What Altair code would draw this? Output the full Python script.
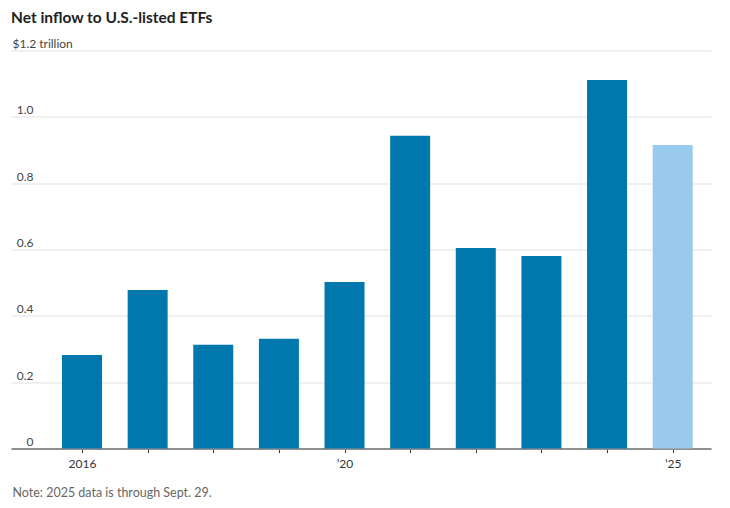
import altair as alt
import pandas as pd

years = [2016, 2017, 2018, 2019, 2020, 2021, 2022, 2023, 2024, 2025]
inflows = [0.282, 0.478, 0.313, 0.331, 0.502, 0.943, 0.605, 0.581, 1.111, 0.915]
status = ["full"] * 9 + ["partial"]
y_ticks = [0, 0.2, 0.4, 0.6, 0.8, 1.0, 1.2]

df = pd.DataFrame({"year": years, "value": inflows, "status": status})

FONT = "Lato, Liberation Sans Narrow, sans-serif"

chart = alt.Chart(df).mark_bar(size=40).encode(
    x=alt.X(
        "year:Q",
        scale=alt.Scale(domain=[2014.918, 2025.584], nice=False, zero=False, padding=0),
        axis=alt.Axis(
            values=years,
            labelExpr="datum.value == 2016 ? '2016' : datum.value == 2020 ? '\u201920' : datum.value == 2025 ? '\u201925' : ''",
            grid=False,
            domainColor="#8f8f8f",
            domainWidth=2,
            tickColor="#333333",
            tickWidth=1,
            tickSize=4,
            labelBaseline="alphabetic",
            labelPadding=15,
            labelFont=FONT,
            labelFontSize=12,
            labelColor="#333333",
            title="Note: 2025 data is through Sept. 29.",
            titleFont=FONT,
            titleFontSize=12.5,
            titleFontWeight="normal",
            titleColor="#666666",
            titleAnchor="start",
            titleAlign="left",
            titleBaseline="alphabetic",
            titleX=1,
            titleY=48,
        ),
    ),
    y=alt.Y(
        "value:Q",
        scale=alt.Scale(domain=[0, 1.2], nice=False),
        axis=alt.Axis(
            values=y_ticks,
            title=None,
            domain=False,
            ticks=False,
            tickSize=0,
            grid=True,
            gridColor="#ebebeb",
            gridWidth=1.5,
            labelExpr="datum.value == 1.2 ? '$1.2 trillion' : datum.value == 0 ? '0' : format(datum.value, '.1f')",
            labelAlign={"condition": {"test": "datum.value == 1.2", "value": "left"}, "value": "right"},
            labelPadding={"condition": {"test": "datum.value == 1.2", "value": -1}, "value": -22},
            labelBaseline="alphabetic",
            labelOffset=-3,
            labelFont=FONT,
            labelFontSize=12,
            labelColor="#444444",
        ),
    ),
    color=alt.Color(
        "status:N",
        scale=alt.Scale(domain=["full", "partial"], range=["#0078ad", "#99caee"]),
        legend=None,
    ),
).properties(
    width=700,
    height=398,
    autosize=alt.AutoSizeParams(type="none"),
    padding={"left": 3, "top": 42.6, "right": 11, "bottom": 52},
    title=alt.TitleParams(
        "Net inflow to U.S.-listed ETFs",
        anchor="start",
        frame="group",
        font=FONT,
        fontSize=15.5,
        fontWeight="bold",
        color="#222222",
        baseline="alphabetic",
        offset=3,
        dy=4,
    ),
).configure_view(stroke=None)

chart.save("out.html", embed_options={"renderer": "svg", "actions": False})
